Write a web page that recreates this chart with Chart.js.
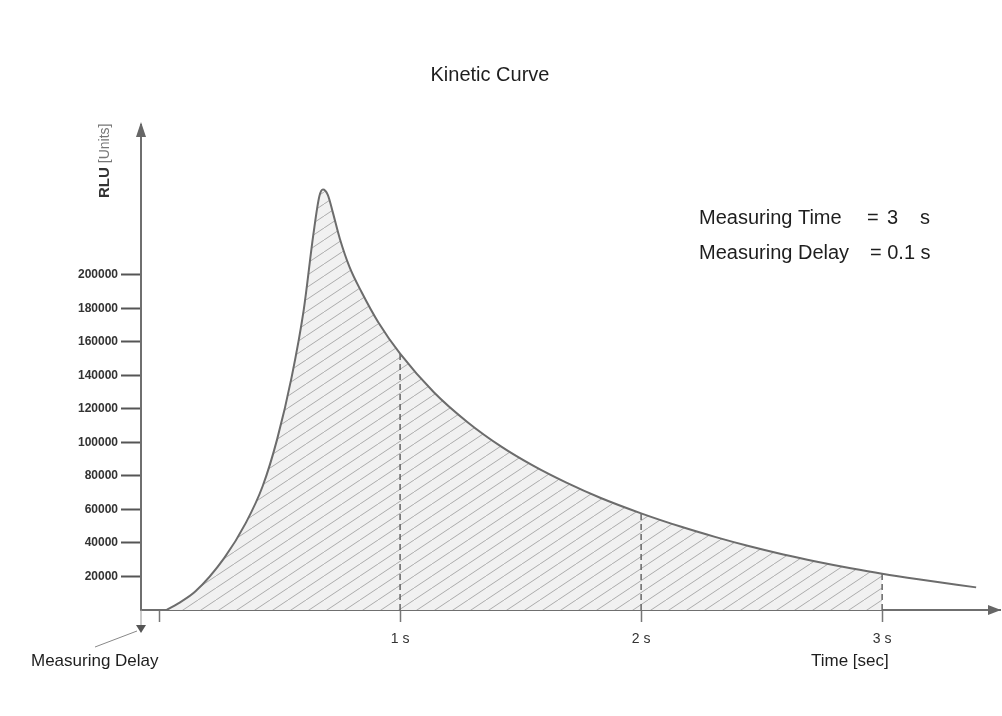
<!DOCTYPE html>
<html>
<head>
<meta charset="utf-8">
<title>Kinetic Curve</title>
<script src="https://cdn.jsdelivr.net/npm/chart.js@4/dist/chart.umd.min.js"></script>
<style>
  html, body { margin: 0; padding: 0; background: #fff; }
  #wrap { width: 1002px; height: 716px; position: relative; }
</style>
</head>
<body>
<div id="wrap"><canvas id="lineChart"></canvas></div>
<script>
// kinetic curve (time in s, RLU)
const timeSec = [0.03, 0.08, 0.15, 0.27, 0.36, 0.43, 0.49, 0.55, 0.6, 0.64, 0.665, 0.68, 0.7, 0.72, 0.75, 0.79, 0.84, 0.91,
  1.0, 1.14, 1.28, 1.42, 1.55, 1.69, 1.83, 2.0, 2.17, 2.31, 2.45, 2.59, 2.73, 2.87, 3.0, 3.15, 3.39];
const rluValues = [0, 4000, 11000, 31000, 52000, 74000, 102000, 139000, 179000, 224000, 247000, 251000, 247800, 237800, 221600, 204800, 189800, 171600,
  153000, 130000, 112100, 97500, 86300, 76000, 67000, 57700, 49500, 43500, 38000, 33100, 28800, 24900, 21600, 18300, 13500];

// dashed markers at the full seconds
const markerTimes = [1, 2, 3];
const markerValues = [153000, 57700, 21600];

// axis ticks
const xTicks = [0, 1, 2, 3];
const yTicks = [20000, 40000, 60000, 80000, 100000, 120000, 140000, 160000, 180000, 200000];

const measuringTime = 3;
const measuringDelay = 0.1;

var curve = timeSec.map((t, i) => ({ x: t, y: rluValues[i] }));
var hatched = curve.filter((p) => p.x <= measuringTime);

// hatch pattern for the integrated area
function makeHatch() {
  var c = document.createElement("canvas");
  c.width = 18;
  c.height = 12;
  var g = c.getContext("2d");
  g.fillStyle = "#f1f1f1";
  g.fillRect(0, 0, 18, 12);
  g.strokeStyle = "#acacac";
  g.lineWidth = 1;
  [-18, 0, 18].forEach(function (off) {
    g.beginPath();
    g.moveTo(off, 12);
    g.lineTo(off + 18, 0);
    g.stroke();
  });
  return g.createPattern(c, "repeat");
}

var datasets = [
  {
    label: "curve",
    data: curve,
    borderColor: "#6c6c6c",
    borderWidth: 2,
    pointRadius: 0,
    cubicInterpolationMode: "monotone",
    fill: false,
    order: 0,
  },
  {
    label: "area",
    data: hatched,
    borderWidth: 0,
    borderColor: "rgba(0,0,0,0)",
    backgroundColor: makeHatch(),
    pointRadius: 0,
    cubicInterpolationMode: "monotone",
    fill: "origin",
    order: 5,
  },
];

markerTimes.forEach(function (t, i) {
  datasets.push({
    label: t + " s",
    data: [{ x: t, y: 0 }, { x: t, y: markerValues[i] }],
    borderColor: "#666",
    borderWidth: 1.5,
    borderDash: [6, 4],
    pointRadius: 0,
    fill: false,
    order: 1,
  });
});

// arrows and free texts
var annotations = {
  id: "annotations",
  afterDraw: function (chart) {
    var ctx = chart.ctx;
    var area = chart.chartArea;
    var ax = area.left;
    var ay = area.bottom;
    ctx.save();

    // axis arrow heads
    ctx.fillStyle = "#666";
    ctx.beginPath();
    ctx.moveTo(ax, area.top - 3);
    ctx.lineTo(ax - 5, area.top + 12);
    ctx.lineTo(ax + 5, area.top + 12);
    ctx.closePath();
    ctx.fill();
    ctx.beginPath();
    ctx.moveTo(area.right + 1, ay);
    ctx.lineTo(area.right - 12, ay - 5);
    ctx.lineTo(area.right - 12, ay + 5);
    ctx.closePath();
    ctx.fill();

    // measuring delay pointer
    ctx.strokeStyle = "#999";
    ctx.lineWidth = 1;
    ctx.beginPath();
    ctx.moveTo(ax, ay);
    ctx.lineTo(ax, ay + 16);
    ctx.stroke();
    ctx.strokeStyle = "#888";
    ctx.beginPath();
    ctx.moveTo(95, 647);
    ctx.lineTo(137, 631);
    ctx.stroke();
    ctx.fillStyle = "#555";
    ctx.beginPath();
    ctx.moveTo(ax - 5, ay + 15);
    ctx.lineTo(ax + 5, ay + 15);
    ctx.lineTo(ax, ay + 23);
    ctx.closePath();
    ctx.fill();

    ctx.fillStyle = "#1e1e1e";
    ctx.textBaseline = "middle";

    ctx.font = "20px 'Liberation Sans', Arial, sans-serif";
    ctx.textAlign = "center";
    ctx.fillText("Kinetic Curve", 490, 75);

    ctx.textAlign = "left";
    ctx.font = "20px 'Liberation Sans', Arial, sans-serif";
    ctx.fillText("Measuring Time", 699, 218);
    ctx.fillText("=", 867, 218);
    ctx.fillText(String(measuringTime), 887, 218);
    ctx.fillText("s", 920, 218);
    ctx.fillText("Measuring Delay", 699, 253);
    ctx.fillText("= " + measuringDelay + " s", 870, 253);

    ctx.font = "17px 'Liberation Sans', Arial, sans-serif";
    ctx.fillText("Measuring Delay", 31, 661);
    ctx.fillText("Time [sec]", 811, 661);

    // rotated y title
    ctx.translate(105, 198);
    ctx.rotate(-Math.PI / 2);
    ctx.font = "bold 15px 'Liberation Sans', Arial, sans-serif";
    ctx.fillStyle = "#333";
    ctx.fillText("RLU", 0, 0);
    var w = ctx.measureText("RLU").width;
    ctx.font = "14px 'Liberation Sans', Arial, sans-serif";
    ctx.fillStyle = "#777";
    ctx.fillText("[Units]", w + 4, 0);

    ctx.restore();
  },
};

var ctx = document.getElementById("lineChart").getContext("2d");

var myChart = new Chart(ctx, {
  type: "line",
  data: { datasets: datasets },
  options: {
    responsive: true,
    maintainAspectRatio: false,
    animation: false,
    layout: { padding: { left: 0, top: 125, right: 2, bottom: 46 } },
    plugins: {
      legend: { display: false },
      tooltip: { enabled: false },
      title: { display: false },
    },
    scales: {
      x: {
        type: "linear",
        min: -0.075,
        max: 3.489,
        afterFit: function (scale) {
          scale.height = 60;
        },
        afterBuildTicks: function (scale) {
          scale.ticks = xTicks.map((v) => ({ value: v }));
        },
        grid: {
          drawOnChartArea: false,
          drawTicks: true,
          tickLength: 12,
          tickColor: "#777",
          tickWidth: 1.5,
        },
        border: { display: true, color: "#6f6f6f", width: 2 },
        ticks: {
          padding: 9,
          color: "#333",
          font: { size: 14, family: "'Liberation Sans', Arial, sans-serif" },
          callback: function (v) {
            return v === 0 ? "" : v + " s";
          },
        },
      },
      y: {
        type: "linear",
        min: 0,
        max: 289500,
        afterFit: function (scale) {
          scale.width = 141;
        },
        afterBuildTicks: function (scale) {
          scale.ticks = yTicks.map((v) => ({ value: v }));
        },
        grid: {
          drawOnChartArea: false,
          drawTicks: true,
          tickLength: 20,
          tickColor: "#555",
          tickWidth: 2,
        },
        border: { display: true, color: "#6f6f6f", width: 2 },
        ticks: {
          padding: 3,
          color: "#333",
          font: { size: 12, weight: "bold", family: "'Liberation Sans', Arial, sans-serif" },
          callback: function (v) {
            return String(v);
          },
        },
      },
    },
  },
  plugins: [annotations],
});
</script>
</body>
</html>
